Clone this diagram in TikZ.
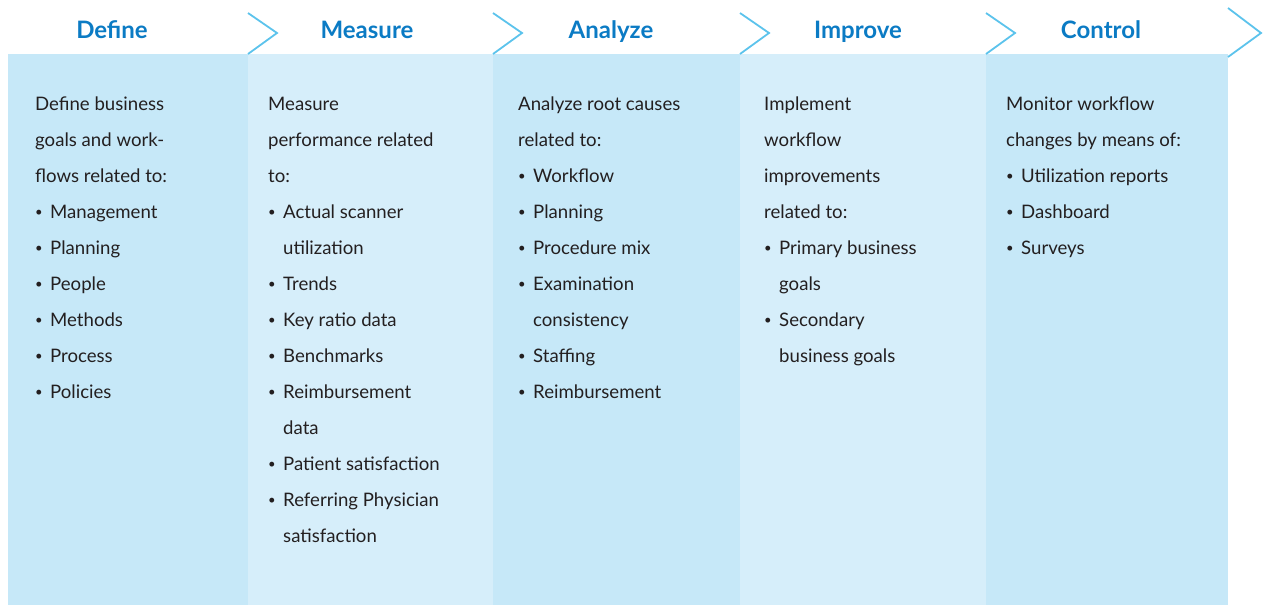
\documentclass[tikz,border=0pt]{standalone}
\usepackage{fontspec}
\setmainfont{Lato}
\definecolor{bandDark}{HTML}{C6E8F8}
\definecolor{bandLight}{HTML}{D6EEFA}
\definecolor{chevBlue}{HTML}{5CC3EC}
\definecolor{headBlue}{HTML}{0B7BC4}
\definecolor{bodyText}{HTML}{231F20}
\newcommand{\bul}{\makebox[15pt][l]{\raisebox{1.5pt}{\scalebox{0.7}{\textbullet}}}}
\newcommand{\ind}{\hspace*{15pt}}
\tikzset{
  band/.style={draw=none, inner sep=0pt, outer sep=0pt, anchor=north west, minimum height=551pt},
  heading/.style={font=\fontsize{24}{28}\selectfont\bfseries, text=headBlue, inner sep=0pt, anchor=base},
  bodytext/.style={font=\fontsize{18.6}{36}\selectfont, text=bodyText, align=left, inner sep=0pt, anchor=north west},
  chevron/.style={draw=chevBlue, line width=1.8pt, line join=miter, line cap=butt}
}
\begin{document}
\begin{tikzpicture}[x=1pt,y=-1pt]
\useasboundingbox (0,0) rectangle (1269,608);
% bands
\node[band, fill=bandDark,  minimum width=240pt] (b1) at (8,54) {};
\node[band, fill=bandLight, minimum width=245pt] (b2) at (248,54) {};
\node[band, fill=bandDark,  minimum width=247pt] (b3) at (493,54) {};
\node[band, fill=bandLight, minimum width=246pt] (b4) at (740,54) {};
\node[band, fill=bandDark,  minimum width=242pt] (b5) at (986,54) {};
% chevrons
\coordinate (c1a) at (248,13); \coordinate (c1b) at (277,33); \coordinate (c1c) at (248,54);
\coordinate (c2a) at (493,13); \coordinate (c2b) at (522,33); \coordinate (c2c) at (493,54);
\coordinate (c3a) at (740,13); \coordinate (c3b) at (769,33); \coordinate (c3c) at (740,54);
\coordinate (c4a) at (986,13); \coordinate (c4b) at (1015,33); \coordinate (c4c) at (986,54);
\coordinate (c5a) at (1228,8); \coordinate (c5b) at (1261,33); \coordinate (c5c) at (1228,57);
\draw[chevron] (c1a) -- (c1b) -- (c1c);
\draw[chevron] (c2a) -- (c2b) -- (c2c);
\draw[chevron] (c3a) -- (c3b) -- (c3c);
\draw[chevron] (c4a) -- (c4b) -- (c4c);
\draw[chevron] (c5a) -- (c5b) -- (c5c);
% headings
\node[heading] (h1) at (112,38) {Define};
\node[heading] (h2) at (367,38) {Measure};
\node[heading] (h3) at (611,38) {Analyze};
\node[heading] (h4) at (858,38) {Improve};
\node[heading] (h5) at (1101,38) {Control};
% body texts
\node[bodytext] (t1) at (35,90) {\rule{0pt}{20pt}Define business\\
goals and work-\\
flows related to:\\
\bul Management\\
\bul Planning\\
\bul People\\
\bul Methods\\
\bul Process\\
\bul Policies};
\node[bodytext] (t2) at (268,90) {\rule{0pt}{20pt}Measure\\
performance related\\
to:\\
\bul Actual scanner\\
\ind utilization\\
\bul Trends\\
\bul Key ratio data\\
\bul Benchmarks\\
\bul Reimbursement\\
\ind data\\
\bul Patient satisfaction\\
\bul Referring Physician\\
\ind satisfaction};
\node[bodytext] (t3) at (518,90) {\rule{0pt}{20pt}Analyze root causes\\
related to:\\
\bul Workflow\\
\bul Planning\\
\bul Procedure mix\\
\bul Examination\\
\ind consistency\\
\bul Staffing\\
\bul Reimbursement};
\node[bodytext] (t4) at (764,90) {\rule{0pt}{20pt}Implement\\
workflow\\
improvements\\
related to:\\
\bul Primary business\\
\ind goals\\
\bul Secondary\\
\ind business goals};
\node[bodytext] (t5) at (1006,90) {\rule{0pt}{20pt}Monitor workflow\\
changes by means of:\\
\bul Utilization reports\\
\bul Dashboard\\
\bul Surveys};
\end{tikzpicture}
\end{document}
